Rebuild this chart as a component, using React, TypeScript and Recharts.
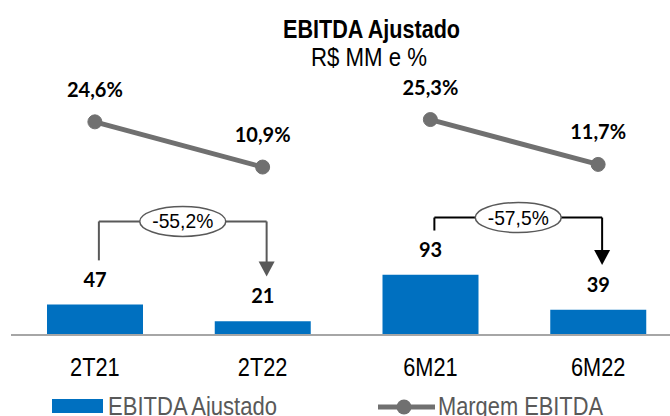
import React from 'react';
import { ComposedChart, Bar, Line, XAxis, YAxis, LabelList, Legend, ReferenceLine } from 'recharts';

const categories = ['2T21', '2T22', '6M21', '6M22'];
const ebitda = [47, 21, 93, 39];
const margem = [24.6, 10.9, 25.3, 11.7];
const periodGroup = ['T', 'T', 'M', 'M'];

const variations = [
  { from: '2T21', to: '2T22', label: '-55,2%', color: '#595959' },
  { from: '6M21', to: '6M22', label: '-57,5%', color: '#000000' },
];
// bracket height (in R$ MM) for each variation
const bracketTop = [175, 181];
const bracketGap = 68;

const SANS = "'Liberation Sans', Arial, sans-serif";
const BOLD = "Lato, 'Open Sans', sans-serif";
const BLUE = '#0070c0';
const GREY = '#707070';

const data = categories.map((name, i) => ({
  name,
  ebitda: ebitda[i],
  margemT: periodGroup[i] === 'T' ? margem[i] : null,
  margemM: periodGroup[i] === 'M' ? margem[i] : null,
}));

const valueOf = (cat: string) => ebitda[categories.indexOf(cat)];
const pct = (v: any) => (v == null ? '' : `${Number(v).toFixed(1).replace('.', ',')}%`);

// narrow (Arial Narrow look) text by squeezing Liberation Sans horizontally
const NarrowTick = (props: any) => {
  const { x, y, payload } = props;
  return (
    <text
      transform={`translate(${x},${y}) scale(0.87,1)`}
      x={0}
      y={0}
      dy="0.71em"
      textAnchor="middle"
      fontFamily={SANS}
      fontSize={25}
      fill="#000"
    >
      {payload.value}
    </text>
  );
};

const segShape = (color: string, arrow = false) => (p: any) => {
  const x1 = p.x1 + 4;
  const x2 = p.x2 + 4;
  if (!arrow) {
    return <line x1={x1} y1={p.y1} x2={x2} y2={p.y2} stroke={color} strokeWidth={2} />;
  }
  const tipY = p.y2;
  return (
    <g>
      <line x1={x1} y1={p.y1} x2={x2} y2={tipY - 14} stroke={color} strokeWidth={2} />
      <polygon points={`${x2 - 8},${tipY - 15} ${x2 + 8},${tipY - 15} ${x2},${tipY}`} fill={color} />
    </g>
  );
};

const ovalLabel = (text: string) => (props: any) => {
  const vb = props.viewBox || {};
  const cx = vb.x + (vb.width || 0) / 2 + 4;
  const cy = vb.y;
  return (
    <g>
      <ellipse cx={cx} cy={cy} rx={43} ry={15} fill="#fff" stroke="#595959" strokeWidth={1.5} />
      <text
        x={cx}
        y={cy + 7}
        textAnchor="middle"
        fontFamily={SANS}
        fontSize={21}
        fill="#000"
        textLength={61}
        lengthAdjust="spacingAndGlyphs"
      >
        {text}
      </text>
    </g>
  );
};

const renderLegend = () => (
  <svg width={670} height={25} style={{ display: 'block', overflow: 'visible' }}>
    <rect x={52} y={8} width={51} height={14} fill={BLUE} />
    <text x={108} y={24} fontFamily={SANS} fontSize={25} fill="#595959" textLength={169} lengthAdjust="spacingAndGlyphs">
      EBITDA Ajustado
    </text>
    <line x1={378} y1={16} x2={435} y2={16} stroke={GREY} strokeWidth={5} />
    <circle cx={404} cy={16} r={7.5} fill={GREY} />
    <text x={438} y={24} fontFamily={SANS} fontSize={25} fill="#595959" textLength={165} lengthAdjust="spacingAndGlyphs">
      Margem EBITDA
    </text>
  </svg>
);

export default function App() {
  return (
    <div style={{ position: 'absolute', left: 0, top: 0, width: 670, height: 416, overflow: 'hidden', background: '#fff' }}>
      <ComposedChart width={690} height={416} data={data} margin={{ top: 43, right: 8, left: 11, bottom: 0 }}>
        <XAxis
          dataKey="name"
          interval={0}
          tickLine={false}
          tickSize={0}
          tickMargin={23}
          height={56}
          axisLine={{ stroke: '#a6a6a6', strokeWidth: 2 }}
          tick={<NarrowTick />}
        />
        <YAxis yAxisId="bar" hide domain={[0, 450]} />
        <YAxis yAxisId="pct" hide orientation="right" domain={[-40, 48.5]} />
        <Bar yAxisId="bar" dataKey="ebitda" fill={BLUE} barSize={96} isAnimationActive={false}>
          <LabelList dataKey="ebitda" position="top" offset={18} fill="#000" fontSize={20} fontWeight="bold" fontFamily={BOLD} />
        </Bar>
        {['margemT', 'margemM'].map((key) => (
          <Line
            key={key}
            yAxisId="pct"
            dataKey={key}
            stroke={GREY}
            strokeWidth={5}
            dot={{ r: 7, fill: GREY, stroke: GREY, strokeWidth: 1 }}
            activeDot={false}
            connectNulls={false}
            isAnimationActive={false}
          >
            <LabelList dataKey={key} position="top" offset={25} formatter={pct} fill="#000" fontSize={20} fontWeight="bold" fontFamily={BOLD} />
          </Line>
        ))}
        {variations.map((v, i) => [
          <ReferenceLine
            key={`l${i}`}
            yAxisId="bar"
            ifOverflow="visible"
            segment={[{ x: v.from, y: valueOf(v.from) + bracketGap }, { x: v.from, y: bracketTop[i] }]}
            shape={segShape(v.color)}
          />,
          <ReferenceLine
            key={`h${i}`}
            yAxisId="bar"
            ifOverflow="visible"
            segment={[{ x: v.from, y: bracketTop[i] }, { x: v.to, y: bracketTop[i] }]}
            shape={segShape(v.color)}
            label={ovalLabel(v.label)}
          />,
          <ReferenceLine
            key={`r${i}`}
            yAxisId="bar"
            ifOverflow="visible"
            segment={[{ x: v.to, y: bracketTop[i] }, { x: v.to, y: valueOf(v.to) + bracketGap + 1 }]}
            shape={segShape(v.color, true)}
          />,
        ])}
        <Legend verticalAlign="bottom" content={renderLegend} wrapperStyle={{ left: 0, width: 670, height: 25, bottom: 0 }} />
      </ComposedChart>
      <svg width={670} height={416} style={{ position: 'absolute', left: 0, top: 0, pointerEvents: 'none' }}>
        <text x={371.5} y={38} textAnchor="middle" fontFamily={SANS} fontWeight="bold" fontSize={25} fill="#000" textLength={177} lengthAdjust="spacingAndGlyphs">
          EBITDA Ajustado
        </text>
        <text x={369} y={66} textAnchor="middle" fontFamily={SANS} fontSize={25} fill="#000" textLength={116} lengthAdjust="spacingAndGlyphs">
          R$ MM e %
        </text>
      </svg>
    </div>
  );
}
